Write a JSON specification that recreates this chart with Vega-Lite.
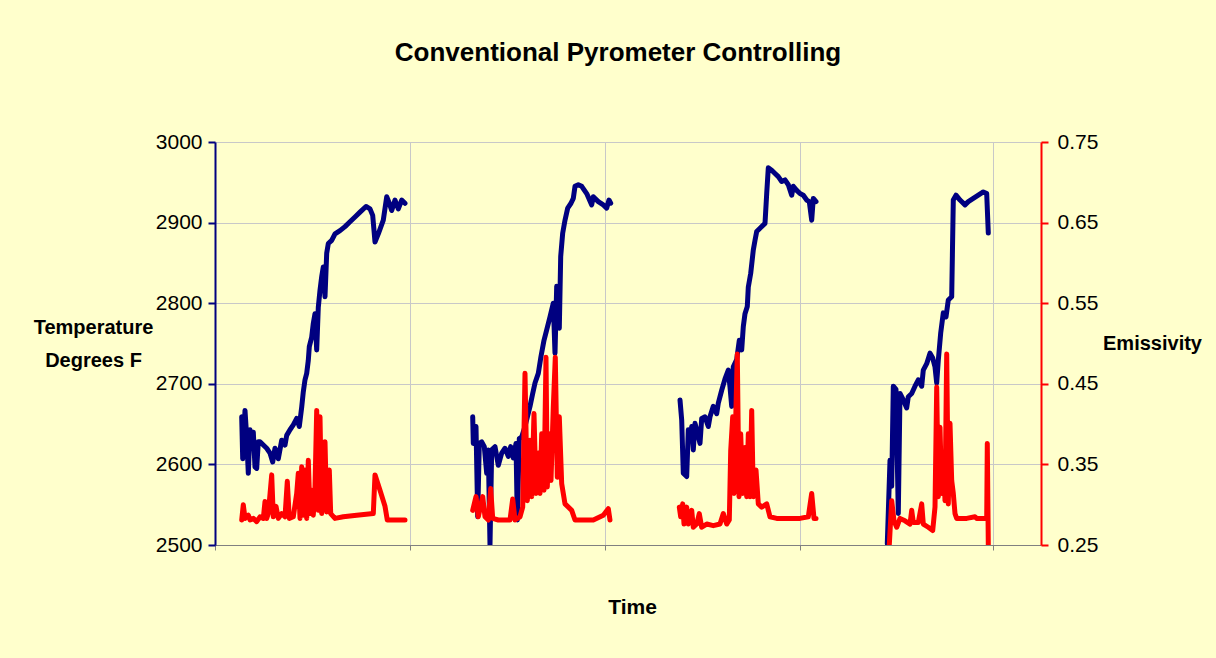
{
  "$schema": "https://vega.github.io/schema/vega-lite/v6.json",
  "width": 826,
  "height": 403,
  "autosize": {"type": "none"},
  "padding": {"left": 215, "top": 142, "right": 175, "bottom": 113},
  "background": "#FFFFCC",
  "config": {
    "view": {"stroke": null},
    "font": "Liberation Sans"
  },
  "title": {
    "text": "Conventional Pyrometer Controlling",
    "font": "Liberation Sans",
    "fontSize": 26,
    "fontWeight": "bold",
    "color": "#000000",
    "anchor": "middle",
    "dx": -10,
    "offset": 65
  },
  "datasets": {
    "temp": [
      {"s":1,"t":26.7,"v":2659},{"s":1,"t":27.7,"v":2607},{"s":1,"t":30,"v":2667},{"s":1,"t":31.7,"v":2634},{"s":1,"t":33.3,"v":2589},{"s":1,"t":35,"v":2643},{"s":1,"t":36.7,"v":2630},{"s":1,"t":38.3,"v":2640},{"s":1,"t":40,"v":2597},{"s":1,"t":41.7,"v":2595},{"s":1,"t":43.3,"v":2628},{"s":1,"t":45,"v":2628},{"s":1,"t":48.3,"v":2624},{"s":1,"t":51.7,"v":2620},{"s":1,"t":55,"v":2614},{"s":1,"t":57.7,"v":2603},{"s":1,"t":60,"v":2620},{"s":1,"t":63.3,"v":2607},{"s":1,"t":66.7,"v":2630},{"s":1,"t":70,"v":2624},{"s":1,"t":71.7,"v":2636},{"s":1,"t":75,"v":2643},{"s":1,"t":78.3,"v":2649},{"s":1,"t":81.7,"v":2657},{"s":1,"t":84.3,"v":2647},{"s":1,"t":86.7,"v":2671},{"s":1,"t":88.3,"v":2690},{"s":1,"t":90,"v":2705},{"s":1,"t":91.7,"v":2713},{"s":1,"t":93.3,"v":2729},{"s":1,"t":94.3,"v":2746},{"s":1,"t":96.7,"v":2758},{"s":1,"t":98.3,"v":2775},{"s":1,"t":100,"v":2787},{"s":1,"t":101.7,"v":2742},{"s":1,"t":103.3,"v":2795},{"s":1,"t":105,"v":2816},{"s":1,"t":106.7,"v":2833},{"s":1,"t":108.3,"v":2845},{"s":1,"t":110,"v":2808},{"s":1,"t":111.7,"v":2862},{"s":1,"t":113.3,"v":2874},{"s":1,"t":116.7,"v":2878},{"s":1,"t":120,"v":2886},{"s":1,"t":125,"v":2890},{"s":1,"t":130,"v":2895},{"s":1,"t":135,"v":2901},{"s":1,"t":140,"v":2907},{"s":1,"t":145,"v":2913},{"s":1,"t":151,"v":2920},{"s":1,"t":155,"v":2917},{"s":1,"t":157.7,"v":2909},{"s":1,"t":160,"v":2876},{"s":1,"t":163.3,"v":2886},{"s":1,"t":168.3,"v":2903},{"s":1,"t":171.7,"v":2932},{"s":1,"t":174.3,"v":2924},{"s":1,"t":176.7,"v":2915},{"s":1,"t":180,"v":2928},{"s":1,"t":183.3,"v":2917},{"s":1,"t":186.7,"v":2928},{"s":1,"t":190,"v":2924},
      {"s":2,"t":257.7,"v":2659},{"s":2,"t":258.3,"v":2626},{"s":2,"t":261,"v":2647},{"s":2,"t":262.7,"v":2535},{"s":2,"t":264.3,"v":2626},{"s":2,"t":266.7,"v":2628},{"s":2,"t":269.3,"v":2622},{"s":2,"t":271.7,"v":2589},{"s":2,"t":273.3,"v":2618},{"s":2,"t":275,"v":2500},{"s":2,"t":276.7,"v":2618},{"s":2,"t":280,"v":2622},{"s":2,"t":283.3,"v":2599},{"s":2,"t":286.7,"v":2614},{"s":2,"t":290,"v":2620},{"s":2,"t":293.3,"v":2610},{"s":2,"t":295.7,"v":2622},{"s":2,"t":298.3,"v":2608},{"s":2,"t":301,"v":2626},{"s":2,"t":302.3,"v":2531},{"s":2,"t":304.3,"v":2632},{"s":2,"t":306.7,"v":2634},{"s":2,"t":310,"v":2647},{"s":2,"t":315,"v":2672},{"s":2,"t":317.7,"v":2688},{"s":2,"t":320,"v":2701},{"s":2,"t":323.3,"v":2713},{"s":2,"t":326,"v":2734},{"s":2,"t":329,"v":2754},{"s":2,"t":331.7,"v":2767},{"s":2,"t":335,"v":2783},{"s":2,"t":338.3,"v":2800},{"s":2,"t":340,"v":2738},{"s":2,"t":341.7,"v":2821},{"s":2,"t":344.3,"v":2769},{"s":2,"t":345.7,"v":2858},{"s":2,"t":347.7,"v":2887},{"s":2,"t":350,"v":2903},{"s":2,"t":352.7,"v":2918},{"s":2,"t":356,"v":2924},{"s":2,"t":358.3,"v":2930},{"s":2,"t":360,"v":2945},{"s":2,"t":363.3,"v":2947},{"s":2,"t":366.7,"v":2945},{"s":2,"t":371.7,"v":2936},{"s":2,"t":376.7,"v":2922},{"s":2,"t":378.3,"v":2932},{"s":2,"t":383.3,"v":2926},{"s":2,"t":388.3,"v":2922},{"s":2,"t":391.7,"v":2918},{"s":2,"t":394,"v":2928},{"s":2,"t":395.7,"v":2924},
      {"s":3,"t":465,"v":2680},{"s":3,"t":466.7,"v":2655},{"s":3,"t":468.3,"v":2589},{"s":3,"t":471.7,"v":2585},{"s":3,"t":473.3,"v":2643},{"s":3,"t":475,"v":2630},{"s":3,"t":476.7,"v":2647},{"s":3,"t":478.3,"v":2618},{"s":3,"t":480,"v":2651},{"s":3,"t":481.7,"v":2643},{"s":3,"t":485,"v":2626},{"s":3,"t":486.7,"v":2657},{"s":3,"t":490,"v":2659},{"s":3,"t":493.3,"v":2647},{"s":3,"t":495,"v":2659},{"s":3,"t":498.3,"v":2672},{"s":3,"t":501.7,"v":2663},{"s":3,"t":503.3,"v":2676},{"s":3,"t":506.7,"v":2692},{"s":3,"t":510,"v":2706},{"s":3,"t":513.3,"v":2717},{"s":3,"t":515,"v":2696},{"s":3,"t":516.7,"v":2672},{"s":3,"t":518.3,"v":2721},{"s":3,"t":521.7,"v":2730},{"s":3,"t":524.3,"v":2754},{"s":3,"t":526.7,"v":2742},{"s":3,"t":528.3,"v":2771},{"s":3,"t":530,"v":2787},{"s":3,"t":532.3,"v":2796},{"s":3,"t":533.3,"v":2820},{"s":3,"t":535.7,"v":2837},{"s":3,"t":538.3,"v":2866},{"s":3,"t":540,"v":2878},{"s":3,"t":541.7,"v":2889},{"s":3,"t":545,"v":2893},{"s":3,"t":550,"v":2899},{"s":3,"t":551.7,"v":2936},{"s":3,"t":553.3,"v":2968},{"s":3,"t":556.7,"v":2965},{"s":3,"t":560,"v":2961},{"s":3,"t":563.3,"v":2957},{"s":3,"t":566.7,"v":2951},{"s":3,"t":570,"v":2953},{"s":3,"t":573.3,"v":2947},{"s":3,"t":576.7,"v":2934},{"s":3,"t":578.3,"v":2945},{"s":3,"t":581.7,"v":2940},{"s":3,"t":585,"v":2936},{"s":3,"t":588.3,"v":2934},{"s":3,"t":591.7,"v":2928},{"s":3,"t":594.3,"v":2926},{"s":3,"t":596.7,"v":2903},{"s":3,"t":598.3,"v":2930},{"s":3,"t":601,"v":2926},
      {"s":4,"t":672.3,"v":2502},{"s":4,"t":675,"v":2605},{"s":4,"t":676.7,"v":2573},{"s":4,"t":678.3,"v":2697},{"s":4,"t":681,"v":2693},{"s":4,"t":683.3,"v":2539},{"s":4,"t":685,"v":2688},{"s":4,"t":688.3,"v":2680},{"s":4,"t":691.7,"v":2670},{"s":4,"t":693.3,"v":2684},{"s":4,"t":696.7,"v":2688},{"s":4,"t":700,"v":2697},{"s":4,"t":703.3,"v":2705},{"s":4,"t":706.7,"v":2697},{"s":4,"t":708.3,"v":2717},{"s":4,"t":711.7,"v":2725},{"s":4,"t":715,"v":2738},{"s":4,"t":717.7,"v":2732},{"s":4,"t":720,"v":2721},{"s":4,"t":721.7,"v":2701},{"s":4,"t":723.3,"v":2729},{"s":4,"t":725.7,"v":2763},{"s":4,"t":728.3,"v":2788},{"s":4,"t":731,"v":2783},{"s":4,"t":733.3,"v":2804},{"s":4,"t":736.7,"v":2808},{"s":4,"t":738.3,"v":2928},{"s":4,"t":741,"v":2934},{"s":4,"t":745,"v":2928},{"s":4,"t":750,"v":2922},{"s":4,"t":753.3,"v":2926},{"s":4,"t":758.3,"v":2930},{"s":4,"t":763.3,"v":2934},{"s":4,"t":768.3,"v":2938},{"s":4,"t":771.7,"v":2936},{"s":4,"t":773.3,"v":2887}
    ],
    "emis": [
      {"s":1,"t":26.7,"v":0.281},{"s":1,"t":28.3,"v":0.300},{"s":1,"t":30,"v":0.283},{"s":1,"t":33.3,"v":0.287},{"s":1,"t":35,"v":0.281},{"s":1,"t":38.3,"v":0.283},{"s":1,"t":41.7,"v":0.279},{"s":1,"t":45,"v":0.285},{"s":1,"t":48.3,"v":0.283},{"s":1,"t":50,"v":0.304},{"s":1,"t":51.7,"v":0.283},{"s":1,"t":53.3,"v":0.289},{"s":1,"t":56.7,"v":0.337},{"s":1,"t":58.3,"v":0.285},{"s":1,"t":61,"v":0.298},{"s":1,"t":63.3,"v":0.283},{"s":1,"t":66.7,"v":0.289},{"s":1,"t":70,"v":0.285},{"s":1,"t":72.3,"v":0.329},{"s":1,"t":74.3,"v":0.283},{"s":1,"t":78.3,"v":0.285},{"s":1,"t":81.7,"v":0.314},{"s":1,"t":83.3,"v":0.339},{"s":1,"t":85,"v":0.283},{"s":1,"t":86.7,"v":0.347},{"s":1,"t":88.3,"v":0.287},{"s":1,"t":90,"v":0.343},{"s":1,"t":91.7,"v":0.283},{"s":1,"t":93.3,"v":0.355},{"s":1,"t":95,"v":0.289},{"s":1,"t":96.7,"v":0.318},{"s":1,"t":98.3,"v":0.287},{"s":1,"t":100,"v":0.322},{"s":1,"t":101.7,"v":0.417},{"s":1,"t":103.3,"v":0.293},{"s":1,"t":105,"v":0.409},{"s":1,"t":106.7,"v":0.289},{"s":1,"t":110,"v":0.378},{"s":1,"t":111.7,"v":0.291},{"s":1,"t":114.3,"v":0.343},{"s":1,"t":115.7,"v":0.289},{"s":1,"t":120,"v":0.283},{"s":1,"t":128.3,"v":0.285},{"s":1,"t":141.7,"v":0.287},{"s":1,"t":158.3,"v":0.289},{"s":1,"t":160,"v":0.337},{"s":1,"t":165,"v":0.318},{"s":1,"t":170,"v":0.298},{"s":1,"t":172.3,"v":0.281},{"s":1,"t":181.7,"v":0.281},{"s":1,"t":190,"v":0.281},
      {"s":2,"t":257.7,"v":0.293},{"s":2,"t":261,"v":0.310},{"s":2,"t":263.3,"v":0.285},{"s":2,"t":267.7,"v":0.310},{"s":2,"t":270,"v":0.285},{"s":2,"t":273.3,"v":0.281},{"s":2,"t":275.7,"v":0.320},{"s":2,"t":277.7,"v":0.283},{"s":2,"t":283.3,"v":0.281},{"s":2,"t":290,"v":0.281},{"s":2,"t":295,"v":0.281},{"s":2,"t":297.7,"v":0.307},{"s":2,"t":300,"v":0.281},{"s":2,"t":305,"v":0.285},{"s":2,"t":307.7,"v":0.297},{"s":2,"t":310,"v":0.463},{"s":2,"t":312.3,"v":0.305},{"s":2,"t":315,"v":0.380},{"s":2,"t":316.7,"v":0.310},{"s":2,"t":319,"v":0.413},{"s":2,"t":321,"v":0.314},{"s":2,"t":323.3,"v":0.364},{"s":2,"t":325,"v":0.314},{"s":2,"t":326.7,"v":0.388},{"s":2,"t":329,"v":0.318},{"s":2,"t":331,"v":0.483},{"s":2,"t":332.3,"v":0.322},{"s":2,"t":334.3,"v":0.388},{"s":2,"t":336,"v":0.330},{"s":2,"t":338.3,"v":0.421},{"s":2,"t":340.3,"v":0.483},{"s":2,"t":342.3,"v":0.334},{"s":2,"t":344.3,"v":0.409},{"s":2,"t":346.7,"v":0.326},{"s":2,"t":350,"v":0.301},{"s":2,"t":356.7,"v":0.293},{"s":2,"t":360,"v":0.281},{"s":2,"t":368.3,"v":0.281},{"s":2,"t":378.3,"v":0.281},{"s":2,"t":388.3,"v":0.287},{"s":2,"t":393.3,"v":0.295},{"s":2,"t":395,"v":0.281},
      {"s":3,"t":464.3,"v":0.297},{"s":3,"t":465.7,"v":0.285},{"s":3,"t":467.7,"v":0.301},{"s":3,"t":469,"v":0.276},{"s":3,"t":471.7,"v":0.297},{"s":3,"t":473.3,"v":0.276},{"s":3,"t":476.7,"v":0.293},{"s":3,"t":478.3,"v":0.272},{"s":3,"t":481.7,"v":0.276},{"s":3,"t":484.3,"v":0.289},{"s":3,"t":486.7,"v":0.272},{"s":3,"t":491.7,"v":0.276},{"s":3,"t":498.3,"v":0.274},{"s":3,"t":505,"v":0.276},{"s":3,"t":508.3,"v":0.289},{"s":3,"t":511.7,"v":0.276},{"s":3,"t":514.3,"v":0.281},{"s":3,"t":515.7,"v":0.367},{"s":3,"t":517.7,"v":0.409},{"s":3,"t":519,"v":0.314},{"s":3,"t":521,"v":0.421},{"s":3,"t":522.3,"v":0.487},{"s":3,"t":524,"v":0.310},{"s":3,"t":525.7,"v":0.388},{"s":3,"t":527.7,"v":0.314},{"s":3,"t":530,"v":0.371},{"s":3,"t":531.7,"v":0.310},{"s":3,"t":533.3,"v":0.388},{"s":3,"t":535,"v":0.310},{"s":3,"t":536.7,"v":0.417},{"s":3,"t":538.3,"v":0.310},{"s":3,"t":541,"v":0.343},{"s":3,"t":543.3,"v":0.301},{"s":3,"t":546.7,"v":0.297},{"s":3,"t":551.7,"v":0.301},{"s":3,"t":555,"v":0.285},{"s":3,"t":561.7,"v":0.283},{"s":3,"t":571.7,"v":0.283},{"s":3,"t":585,"v":0.283},{"s":3,"t":593.3,"v":0.285},{"s":3,"t":596.7,"v":0.314},{"s":3,"t":599,"v":0.283},{"s":3,"t":601,"v":0.283},
      {"s":4,"t":674.3,"v":0.25},{"s":4,"t":676.7,"v":0.305},{"s":4,"t":679,"v":0.280},{"s":4,"t":681.7,"v":0.272},{"s":4,"t":685,"v":0.283},{"s":4,"t":690,"v":0.280},{"s":4,"t":695,"v":0.276},{"s":4,"t":696.7,"v":0.293},{"s":4,"t":698.3,"v":0.278},{"s":4,"t":703.3,"v":0.278},{"s":4,"t":706.7,"v":0.301},{"s":4,"t":708.3,"v":0.276},{"s":4,"t":713.3,"v":0.272},{"s":4,"t":717.7,"v":0.268},{"s":4,"t":720,"v":0.297},{"s":4,"t":721.7,"v":0.446},{"s":4,"t":723.3,"v":0.310},{"s":4,"t":725,"v":0.396},{"s":4,"t":726.7,"v":0.314},{"s":4,"t":728.3,"v":0.364},{"s":4,"t":730,"v":0.305},{"s":4,"t":731.7,"v":0.487},{"s":4,"t":733.3,"v":0.301},{"s":4,"t":735,"v":0.401},{"s":4,"t":736.7,"v":0.330},{"s":4,"t":738.3,"v":0.314},{"s":4,"t":740,"v":0.289},{"s":4,"t":741.7,"v":0.283},{"s":4,"t":751.7,"v":0.283},{"s":4,"t":760,"v":0.285},{"s":4,"t":761.7,"v":0.283},{"s":4,"t":771.7,"v":0.283},{"s":4,"t":772.3,"v":0.376},{"s":4,"t":773.3,"v":0.25}
    ]
  },
  "encoding": {
    "x": {
      "field": "t",
      "type": "quantitative",
      "scale": {"domain": [0, 826], "nice": false, "zero": false},
      "axis": {
        "values": [0, 195, 390, 585, 778],
        "labels": false,
        "ticks": true,
        "tickSize": 5,
        "tickColor": "#808080",
        "domainColor": "#808080",
        "domainWidth": 1,
        "grid": true,
        "gridColor": "#C8C8C8",
        "gridWidth": 1,
        "title": "Time",
        "titleFont": "Liberation Sans",
        "titleFontSize": 21,
        "titleFontWeight": "bold",
        "titleColor": "#000000",
        "titleX": 417,
        "titleY": 62,
        "titleAlign": "center",
        "titleBaseline": "middle"
      }
    }
  },
  "layer": [
    {
      "data": {"name": "temp"},
      "mark": {"type": "line", "color": "#000080", "strokeWidth": 5, "strokeJoin": "round", "strokeCap": "round", "clip": true},
      "encoding": {
        "detail": {"field": "s", "type": "nominal"},
        "y": {
          "field": "v",
          "type": "quantitative",
          "scale": {"domain": [2500, 3000], "nice": false, "zero": false},
          "axis": {
            "orient": "left",
            "values": [2500, 2600, 2700, 2800, 2900, 3000],
            "format": "d",
            "domainColor": "#000080",
            "domainWidth": 2,
            "tickColor": "#000080",
            "tickWidth": 2,
            "tickSize": 7,
            "labelFont": "Liberation Sans",
            "labelFontSize": 21,
            "labelColor": "#000000",
            "labelPadding": 6,
            "grid": true,
            "gridColor": "#C8C8C8",
            "gridWidth": 1,
            "title": ["Temperature", "Degrees F"],
            "titleFont": "Liberation Sans",
            "titleFontSize": 20,
            "titleFontWeight": "bold",
            "titleColor": "#000000",
            "titleAngle": 0,
            "titleAlign": "center",
            "titleBaseline": "middle",
            "titleLineHeight": 33,
            "titleX": -122,
            "titleY": 185
          }
        }
      }
    },
    {
      "data": {"name": "emis"},
      "mark": {"type": "line", "color": "#FF0000", "strokeWidth": 5, "strokeJoin": "round", "strokeCap": "round", "clip": true},
      "encoding": {
        "detail": {"field": "s", "type": "nominal"},
        "y": {
          "field": "v",
          "type": "quantitative",
          "scale": {"domain": [0.25, 0.75], "nice": false, "zero": false},
          "axis": {
            "orient": "right",
            "values": [0.25, 0.35, 0.45, 0.55, 0.65, 0.75],
            "format": ".2f",
            "domainColor": "#FF0000",
            "domainWidth": 2,
            "tickColor": "#FF0000",
            "tickWidth": 2,
            "tickSize": 7,
            "labelFont": "Liberation Sans",
            "labelFontSize": 21,
            "labelColor": "#000000",
            "labelPadding": 9,
            "grid": false,
            "title": "Emissivity",
            "titleFont": "Liberation Sans",
            "titleFontSize": 20,
            "titleFontWeight": "bold",
            "titleColor": "#000000",
            "titleAngle": 0,
            "titleAlign": "center",
            "titleBaseline": "middle",
            "titleX": 111,
            "titleY": 201
          }
        }
      }
    }
  ],
  "resolve": {"scale": {"y": "independent"}}
}
